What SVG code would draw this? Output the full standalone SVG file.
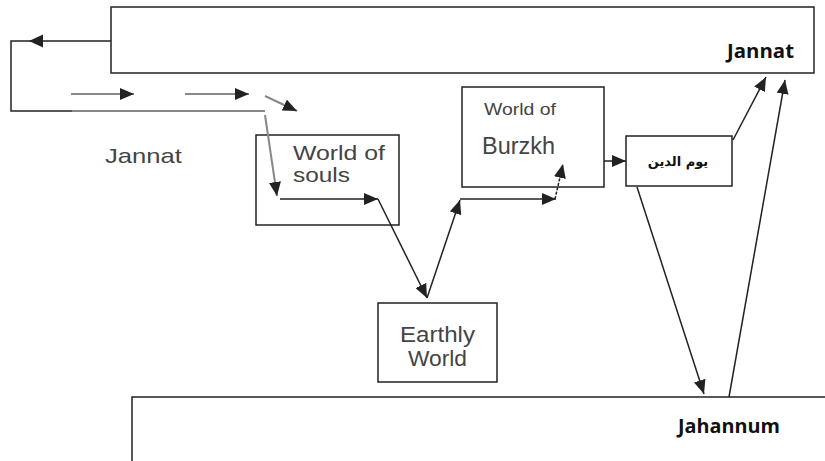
<svg xmlns="http://www.w3.org/2000/svg" width="825" height="461" viewBox="0 0 825 461">
  <style>
    .box { fill: #fff; stroke: #222; stroke-width: 1.5; }
    .wire { fill: none; stroke: #222; stroke-width: 1.5; }
    .soft { fill: none; stroke: #888; stroke-width: 2; }
    .lbl { font-family: "Liberation Sans", Arial, sans-serif; fill: #444; }
    .bold { font-family: "Open Sans", "Liberation Sans", sans-serif; font-weight: bold; fill: #111; }
  </style>
  <defs>
    <marker id="head" viewBox="0 0 14 12" refX="14" refY="6" markerWidth="14" markerHeight="12" markerUnits="userSpaceOnUse" orient="auto">
      <path d="M0,0 L14,6 L0,12 Z" fill="#222"/>
    </marker>
  </defs>
  <rect width="825" height="461" fill="#fff"/>

  <g id="jannat">
    <rect class="box" x="111" y="7" width="703" height="66"/>
    <text class="bold" x="727" y="58" font-size="19" textLength="67" lengthAdjust="spacingAndGlyphs">Jannat</text>
  </g>

  <g id="jahannum">
    <rect class="box" x="132" y="397" width="720" height="100" stroke="#555"/>
    <text class="bold" x="678" y="433" font-size="19" textLength="102" lengthAdjust="spacingAndGlyphs">Jahannum</text>
  </g>

  <g id="jannat-label">
    <text class="lbl" x="105" y="163" font-size="21" textLength="77" lengthAdjust="spacingAndGlyphs">Jannat</text>
  </g>

  <g id="world-of-souls">
    <rect class="box" x="256" y="135" width="143" height="90"/>
    <text class="lbl" x="293" y="160" font-size="20" textLength="92" lengthAdjust="spacingAndGlyphs">World of</text>
    <text class="lbl" x="293" y="182" font-size="20" textLength="57" lengthAdjust="spacingAndGlyphs">souls</text>
  </g>

  <g id="world-of-burzkh">
    <rect class="box" x="462" y="87" width="142" height="100"/>
    <text class="lbl" x="484" y="115" font-size="17" fill="#223" textLength="72" lengthAdjust="spacingAndGlyphs">World of</text>
    <text class="lbl" x="482" y="154" font-size="23" textLength="73" lengthAdjust="spacingAndGlyphs">Burzkh</text>
  </g>

  <g id="earthly-world">
    <rect class="box" x="378" y="303" width="119" height="79"/>
    <text class="lbl" x="437.5" y="342" font-size="22" text-anchor="middle" textLength="75" lengthAdjust="spacingAndGlyphs">Earthly</text>
    <text class="lbl" x="437.5" y="366" font-size="22" text-anchor="middle" textLength="59" lengthAdjust="spacingAndGlyphs">World</text>
  </g>

  <g id="yaum-ud-din">
    <rect class="box" x="626" y="136" width="106" height="50"/>
    <text x="678" y="166" font-family="'DejaVu Sans', sans-serif" font-size="13" font-weight="bold" fill="#111" text-anchor="middle" direction="rtl">یوم الدین</text>
  </g>

  <g id="connectors">
    <!-- loop out of Jannat -->
    <path class="wire" d="M111,41 H11 V111 H85"/>
    <path d="M29,41 L43,34.5 L43,47.5 Z" fill="#222"/>
    <!-- soft grey guide lines -->
    <path class="soft" d="M72,111 H265"/>
    <path class="soft" d="M71,94 H134" marker-end="url(#head)"/>
    <path class="soft" d="M185,94 H249" marker-end="url(#head)"/>
    <path class="soft" stroke-width="1.5" d="M265,96 L297,111" marker-end="url(#head)"/>
    <path class="soft" stroke="#666" stroke-width="1.5" d="M265,115 L277,196" marker-end="url(#head)"/>
    <!-- path through the worlds -->
    <path class="wire" stroke="#444" d="M280,199 H378" marker-end="url(#head)"/>
    <path class="wire" stroke="#444" d="M378,199 L427,298" marker-end="url(#head)"/>
    <path class="wire" stroke="#444" d="M427,298 L460,200" marker-end="url(#head)"/>
    <path class="wire" stroke="#444" d="M460,199 H556" marker-end="url(#head)"/>
    <path class="wire" stroke-dasharray="3,1.5" d="M555,199 L563,164" marker-end="url(#head)"/>
    <path class="wire" d="M604,161 H626" marker-end="url(#head)"/>
    <!-- judgement outcomes -->
    <path class="wire" stroke-width="1.3" d="M733,140 L766,77" marker-end="url(#head)"/>
    <path class="wire" stroke-width="1.3" d="M637,187 L704,394" marker-end="url(#head)"/>
    <path class="wire" stroke-width="1.3" d="M729,397 L785,80" marker-end="url(#head)"/>
  </g>
</svg>
